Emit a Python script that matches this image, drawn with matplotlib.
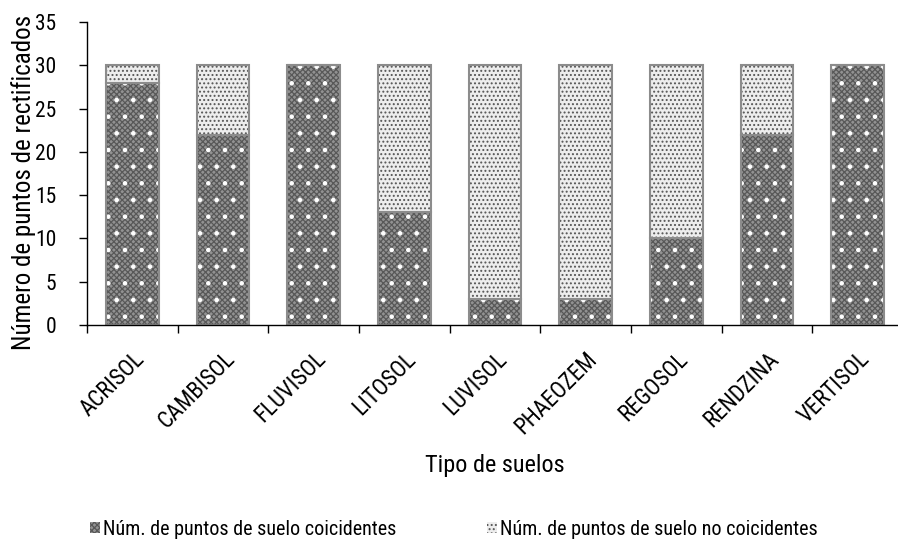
import matplotlib
matplotlib.use("Agg")
import matplotlib.pyplot as plt
from matplotlib.patches import Patch
import numpy as np

suelos = ["ACRISOL", "CAMBISOL", "FLUVISOL", "LITOSOL", "LUVISOL",
          "PHAEOZEM", "REGOSOL", "RENDZINA", "VERTISOL"]
coincidentes = [28, 22, 30, 13, 3, 3, 10, 22, 30]
no_coincidentes = [2, 8, 0, 17, 27, 27, 20, 8, 0]

plt.rcParams['font.family'] = ['Roboto Condensed', 'Liberation Sans', 'DejaVu Sans']
plt.rcParams['hatch.linewidth'] = 0.9

fig = plt.figure(figsize=(8.98, 5.44), dpi=100)
ax = fig.add_axes([0.0969, 0.4026, 0.9087, 0.557])

x = np.arange(len(suelos))
w = 0.58

# coincidentes: gris con textura fina y puntos blancos
ax.bar(x, coincidentes, w, color="#929292", edgecolor="#585858", lw=0, hatch="xxxxxx")
ax.bar(x, coincidentes, w, fill=False, edgecolor="white", lw=0, hatch=".")
ax.bar(x, coincidentes, w, fill=False, edgecolor="#8c8c8c", lw=1.5)

# no coincidentes: claro con puntos
ax.bar(x, no_coincidentes, w, bottom=coincidentes, color="#ededed", edgecolor="#555555", lw=0, hatch="....")
ax.bar(x, no_coincidentes, w, bottom=coincidentes, fill=False, edgecolor="#8c8c8c", lw=1.5)

ax.set_xlim(-0.5, len(suelos) - 0.5)
ax.set_ylim(0, 35)
ax.set_yticks(range(0, 36, 5))
ax.set_xticks(np.arange(-0.5, len(suelos), 1.0))
ax.set_xticklabels([])
ax.set_xticks(x, minor=True)
ax.set_xticklabels(suelos, minor=True, rotation=45, ha="right", rotation_mode="anchor", fontsize=16.5)
ax.tick_params(axis="x", which="minor", length=0, pad=16)
ax.tick_params(axis="x", which="major", length=6, width=1, direction="out")
ax.tick_params(axis="y", length=6, width=1, direction="out", labelsize=15.5, pad=16)
ax.spines["top"].set_visible(False)
ax.spines["right"].set_visible(False)
ax.spines["left"].set_linewidth(1)
ax.spines["bottom"].set_linewidth(1)

fig.text(0.026, 0.665, "Número de puntos de rectificados", rotation=90,
         ha="center", va="center", fontsize=18)
fig.text(0.551, 0.145, "Tipo de suelos", ha="center", va="center", fontsize=17.5)

h1 = Patch(facecolor="#929292", edgecolor="#585858", hatch="xxxxxx", lw=0)
h2 = Patch(facecolor="#ededed", edgecolor="#555555", hatch="....", lw=0)
fig.legend([h1, h2], ["Núm. de puntos de suelo coicidentes", "Núm. de puntos de suelo no coicidentes"],
           loc="center", bbox_to_anchor=(0.505, 0.027), ncol=2, frameon=False, fontsize=14.5,
           handlelength=0.5, handleheight=0.5, handletextpad=0.15, columnspacing=4.5)

fig.savefig("out.png", dpi=100)
